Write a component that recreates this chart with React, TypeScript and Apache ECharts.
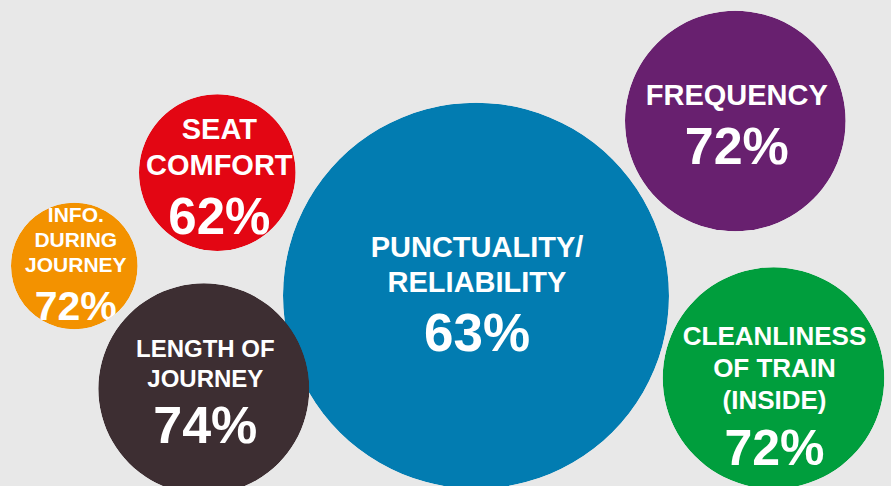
import React, { useEffect, useRef } from "react";
import * as echarts from "echarts";

// Bubble data (x, y in a 891 x 486 plane, r = radius in the same units)
const categories = [
  ["PUNCTUALITY/", "RELIABILITY"],
  ["FREQUENCY"],
  ["CLEANLINESS", "OF TRAIN", "(INSIDE)"],
  ["LENGTH OF", "JOURNEY"],
  ["INFO.", "DURING", "JOURNEY"],
  ["SEAT", "COMFORT"],
];
const values = [63, 72, 72, 74, 72, 62];
const xs = [476, 735.3, 773.5, 203.8, 74.3, 217.3];
const ys = [295.7, 121, 378, 388.8, 266, 172.6];
const rs = [193, 110.3, 110.8, 105.5, 63.3, 78.3];

// Styling per bubble
const colors = ["#027cb1", "#68206f", "#009e3d", "#3d2e32", "#f39200", "#e30613"];
const labelSize = [29, 29, 26, 24, 21, 29];
const lineGap = [35, 0, 32, 29.5, 25, 35.7];
const firstOffset = [-49, -26, -42, -40, -51.3, -43.3];
const valueGap = [51, 51, 48, 47, 41, 51.7];
const valueSize = [53, 52, 50, 52, 41, 51];
const xShift = [1, 1.5, 1, 1.5, 1.5, 2];

const FONT = "'Liberation Sans', Arial, Helvetica, sans-serif";

export default function App() {
  const ref = useRef<HTMLDivElement>(null);
  useEffect(() => {
    document.body.style.margin = "0";
    const chart = echarts.init(ref.current!, null, { renderer: "svg" });
    const data = values.map((v, i) => [xs[i], ys[i], rs[i], v]);
    chart.setOption({
      animation: false,
      backgroundColor: "#e8e8e8",
      grid: { left: 0, right: 0, top: 0, bottom: 0 },
      xAxis: { type: "value", min: 0, max: 891, show: false },
      yAxis: { type: "value", min: 0, max: 486, inverse: true, show: false },
      series: [
        {
          type: "custom",
          coordinateSystem: "cartesian2d",
          data,
          clip: false,
          renderItem: (params: any, api: any) => {
            const i = params.dataIndex;
            const c = api.coord([api.value(0), api.value(1)]);
            const r = api.size([api.value(2), 0])[0];
            const lines = categories[i];
            const tx = c[0] + xShift[i];
            const children: any[] = [
              {
                type: "circle",
                shape: { cx: c[0], cy: c[1], r },
                style: { fill: colors[i] },
              },
            ];
            const y = c[1] + firstOffset[i];
            lines.forEach((ln, k) => {
              children.push({
                type: "text",
                x: tx,
                y: y + k * lineGap[i],
                style: {
                  text: ln,
                  fill: "#ffffff",
                  font: `bold ${labelSize[i]}px ${FONT}`,
                  align: "center",
                  verticalAlign: "middle",
                },
              });
            });
            const vy = y + (lines.length - 1) * lineGap[i] + valueGap[i];
            children.push({
              type: "text",
              x: tx,
              y: vy,
              style: {
                text: api.value(3) + "%",
                fill: "#ffffff",
                font: `bold ${valueSize[i]}px ${FONT}`,
                align: "center",
                verticalAlign: "middle",
              },
            });
            return {
              type: "group",
              clipPath: { type: "circle", shape: { cx: c[0], cy: c[1], r } },
              children,
            };
          },
        },
      ],
    });
    return () => chart.dispose();
  }, []);
  return <div ref={ref} style={{ width: 891, height: 486 }} />;
}
